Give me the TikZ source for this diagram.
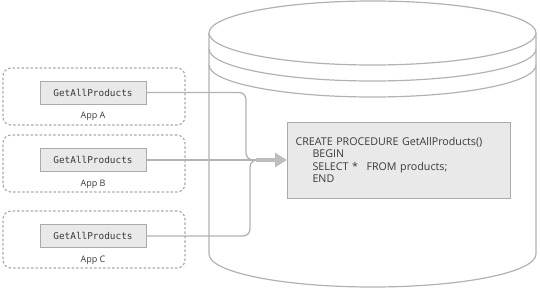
\documentclass[tikz,border=0pt]{standalone}
\usepackage{fontspec}
\setmainfont{Open Sans}
\newfontfamily\codefont{DejaVu Sans Mono}
\usetikzlibrary{arrows.meta}
\definecolor{ln}{HTML}{B2B2B2}
\definecolor{dash}{HTML}{ABABAB}
\definecolor{boxfill}{HTML}{E9E9E9}
\definecolor{boxline}{HTML}{ABABAB}
\definecolor{txt}{HTML}{3A3A3A}
\tikzset{
  cyl/.style={draw=ln, line width=1.2pt},
  appbox/.style={draw=dash, line width=1.2pt, dash pattern=on 2.5pt off 2pt, rounded corners=8pt, minimum width=182pt, minimum height=57pt, inner sep=0pt},
  fnbox/.style={draw=boxline, fill=boxfill, line width=1pt, minimum width=106pt, minimum height=23pt, inner sep=0pt, font=\codefont\fontsize{9.4}{11}\selectfont, text=txt},
  lbl/.style={font=\fontsize{9}{10}\selectfont, text=txt, inner sep=0pt},
  codebox/.style={draw=boxline, fill=boxfill, line width=1pt, minimum width=223pt, minimum height=76pt, text width=207pt, inner xsep=8pt, inner ysep=0pt, align=left, font=\fontsize{10.7}{12.4}\selectfont, text=txt},
  conn/.style={draw=ln, line width=1.3pt},
  bigarrow/.style={draw=ln!85, line width=3.4pt, -{Triangle[length=12pt,width=14pt]}}
}
\begin{document}
\begin{tikzpicture}[x=1pt,y=-1pt]
\useasboundingbox (0,0) rectangle (540,289);
% cylinder
\draw[cyl] (209,33) -- (209,254) arc[start angle=180,end angle=360,x radius=163.5pt,y radius=33pt] -- (536,33);
\draw[cyl, fill=white] (372.5,33) ellipse [x radius=163.5pt, y radius=32pt];
\draw[cyl] (209,49) arc[start angle=180,end angle=360,x radius=163.5pt,y radius=32pt];
\draw[cyl] (209,65) arc[start angle=180,end angle=360,x radius=163.5pt,y radius=32pt];
% app boxes
\node[appbox] (appA) at (94,96.5) {};
\node[appbox] (appB) at (94,163.5) {};
\node[appbox] (appC) at (94,239.5) {};
\node[fnbox] (fA) at (93,92.5) {GetAllProducts};
\node[fnbox] (fB) at (93,160) {GetAllProducts};
\node[fnbox] (fC) at (93,236) {GetAllProducts};
\node[lbl] (lA) at (93,116) {App A};
\node[lbl] (lB) at (93,184) {App B};
\node[lbl] (lC) at (93,260) {App C};
% code box
\node[codebox, anchor=west] (code) at (287,160) {CREATE PROCEDURE GetAllProducts()\\\hspace*{17pt}BEGIN\\\hspace*{17pt}SELECT *\hspace{5pt} FROM products;\\\hspace*{17pt}END};
% connectors
\coordinate (jA) at (246,160);
\coordinate (jC) at (250,160);
\coordinate (arr) at (256,160);
\draw[conn, rounded corners=7pt] (fA.east) -| (jA) -- (arr);
\draw[conn, rounded corners=7pt] (fC.east) -| (jC) -- (arr);
\draw[conn] (fB.east) -- (arr);
\draw[bigarrow] (arr) -- (code.west);
\end{tikzpicture}
\end{document}
